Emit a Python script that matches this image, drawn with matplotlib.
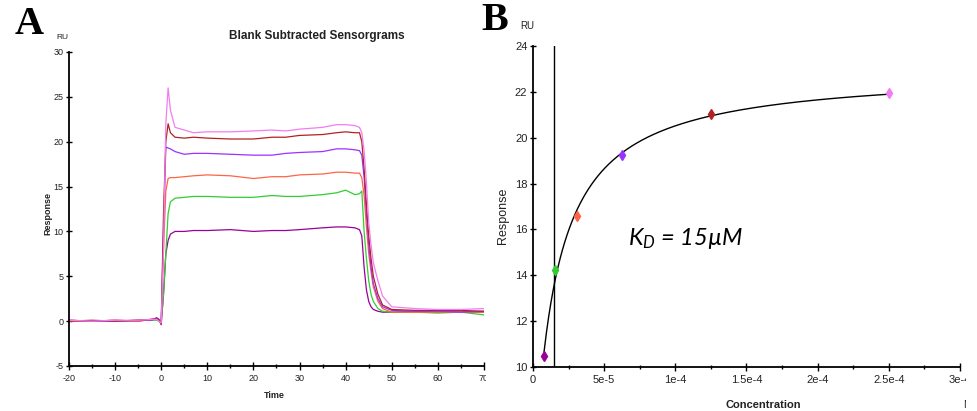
import numpy as np
import matplotlib
matplotlib.use('Agg')
import matplotlib.pyplot as plt
from matplotlib.ticker import MultipleLocator, FixedLocator, FixedFormatter
from matplotlib.transforms import Bbox, TransformedBbox

plt.rcParams['font.family'] = ['Liberation Sans', 'DejaVu Sans']
plt.rcParams['axes.unicode_minus'] = False
plt.rcParams['mathtext.fontset'] = 'custom'
plt.rcParams['mathtext.it'] = 'Lato:italic'
plt.rcParams['mathtext.rm'] = 'Lato:italic'

# ---- panel A: sensorgrams (RU vs s) ----
time_s = [-20, -15, -10, -5, -2, -1, -0.5, 0, 0.5, 1, 1.5, 2, 3, 5, 7, 10, 15, 20, 24, 27,
          30, 35, 38, 40, 42, 43, 43.5, 44, 44.5, 45, 45.5, 46, 47, 48, 50, 55, 60, 65, 70]

resp_250 = [0.1, 0.0, 0.1, 0.1, 0.2, 0.2, 0.0, -0.2, 8.0, 22.0, 26.0, 23.5, 21.6, 21.3, 21.0, 21.1, 21.1, 21.2, 21.3, 21.2,
            21.4, 21.6, 21.9, 21.9, 21.8, 21.6, 21.0, 19.0, 15.5, 11.0, 8.5, 6.5, 4.5, 2.8, 1.6, 1.4, 1.3, 1.3, 1.4]
resp_125 = [0.0, 0.1, 0.0, 0.1, 0.2, 0.3, 0.1, -0.3, 12.0, 20.0, 22.0, 21.0, 20.5, 20.4, 20.5, 20.4, 20.3, 20.3, 20.5, 20.5,
            20.7, 20.8, 21.0, 21.1, 21.0, 21.0, 20.0, 17.0, 13.0, 9.5, 7.0, 5.0, 3.0, 1.8, 1.3, 1.2, 1.2, 1.2, 1.1]
resp_62 = [0.1, 0.0, 0.0, 0.1, 0.1, 0.4, 0.2, -0.2, 10.0, 19.4, 19.3, 19.2, 18.9, 18.6, 18.7, 18.7, 18.6, 18.5, 18.5, 18.7,
           18.8, 18.9, 19.2, 19.2, 19.1, 19.0, 18.5, 16.0, 12.0, 8.5, 6.0, 4.2, 2.5, 1.6, 1.2, 1.1, 1.1, 1.0, 1.1]
resp_31 = [0.0, 0.0, 0.1, 0.0, 0.2, 0.3, 0.1, -0.3, 8.0, 14.5, 15.9, 16.0, 16.0, 16.1, 16.2, 16.3, 16.2, 15.9, 16.1, 16.1,
           16.3, 16.4, 16.6, 16.6, 16.5, 16.5, 16.0, 14.0, 10.5, 7.5, 5.5, 3.8, 2.2, 1.4, 1.0, 1.0, 1.0, 1.0, 1.0]
resp_16 = [0.0, 0.0, 0.0, 0.1, 0.1, 0.1, 0.0, 0.0, 3.0, 7.5, 12.0, 13.3, 13.7, 13.8, 13.9, 13.9, 13.8, 13.8, 14.0, 13.9,
           13.9, 14.1, 14.3, 14.6, 14.1, 14.2, 14.5, 10.0, 7.0, 4.5, 3.0, 2.2, 1.4, 1.1, 1.0, 1.0, 0.9, 1.0, 0.7]
resp_8 = [0.1, 0.0, 0.1, 0.0, 0.2, 0.3, 0.2, -0.4, 3.0, 7.5, 9.0, 9.7, 10.0, 10.0, 10.1, 10.1, 10.2, 10.0, 10.1, 10.1,
          10.2, 10.4, 10.5, 10.5, 10.4, 10.2, 9.5, 6.0, 3.5, 2.2, 1.6, 1.3, 1.1, 1.0, 1.0, 1.1, 1.0, 1.1, 1.0]

curve_colors = ['#990099', '#33cc33', '#ff6347', '#9933ff', '#b22222', '#f07ef0']
curves = [resp_8, resp_16, resp_31, resp_62, resp_125, resp_250]

# ---- panel B: steady-state affinity ----
conc_M = [7.8e-6, 1.56e-5, 3.125e-5, 6.25e-5, 1.25e-4, 2.5e-4]
resp_eq = [10.5, 14.25, 16.57, 19.23, 21.05, 21.95]
kd_M = 1.5e-5

fig = plt.figure(figsize=(9.77, 4.11), dpi=100)
axA = fig.add_axes([0.0706, 0.1095, 0.4248, 0.764])
axB = fig.add_axes([0.5455, 0.107, 0.4371, 0.781])

for resp, col in zip(curves, curve_colors):
    axA.plot(time_s, resp, color=col, lw=0.9)

axA.set_xlim(-20, 70)
axA.set_ylim(-5, 30)
axA.xaxis.set_major_locator(MultipleLocator(10))
axA.xaxis.set_minor_locator(MultipleLocator(5))
axA.yaxis.set_major_locator(MultipleLocator(5))

# fit steady-state model with fixed KD (linear in Rmax and offset)
c = np.array(conc_M)
frac = c / (kd_M + c)
A_mat = np.vstack([frac, np.ones_like(frac)]).T
rmax, off = np.linalg.lstsq(A_mat, np.array(resp_eq), rcond=None)[0]
c_fit = np.linspace(c.min(), c.max(), 300)
axB.plot(c_fit, rmax * c_fit / (kd_M + c_fit) + off, color='black', lw=1.0, zorder=2)
axB.plot([kd_M, kd_M], [10, 24], color='black', lw=1.0, zorder=2)
for x, y, col in zip(conc_M, resp_eq, curve_colors):
    axB.plot(x, y, marker='d', ms=5, color=col, mec=col, zorder=3)

axB.set_xlim(0, 3e-4)
axB.set_ylim(10, 24)
axB.xaxis.set_major_locator(FixedLocator([0, 5e-5, 1e-4, 1.5e-4, 2e-4, 2.5e-4, 3e-4]))
axB.xaxis.set_major_formatter(FixedFormatter(['0', '5e-5', '1e-4', '1.5e-4', '2e-4', '2.5e-4', '3e-4']))
axB.xaxis.set_minor_locator(MultipleLocator(2.5e-5))
axB.yaxis.set_major_locator(MultipleLocator(2))

for ax, fs in ((axA, 6.5), (axB, 8)):
    for s in ('top', 'right'):
        ax.spines[s].set_visible(False)
    ax.spines['left'].set_linewidth(1.3)
    ax.spines['bottom'].set_linewidth(1.3)
    ax.tick_params(which='major', direction='inout', length=6, width=1.0, labelsize=fs, color='black',
                   labelcolor='#222222', pad=3)
    ax.tick_params(which='minor', direction='inout', length=3, width=1.0)
    ax.tick_params(axis='y', which='major', length=5, pad=1.5)

# axis texts (kept just left of the tick labels)
axA.text(-0.052, 0.487, 'Response', transform=axA.transAxes, rotation=90, ha='center', va='center',
         fontsize=6.5, fontweight='bold', color='#222222')
axB.text(-0.07, 0.47, 'Response', transform=axB.transAxes, rotation=90, ha='center', va='center',
         fontsize=9, color='#222222')
axA.text(-0.017, 1.045, 'RU', transform=axA.transAxes, ha='center', va='center', fontsize=6, color='#222222')
axB.text(-0.014, 1.062, 'RU', transform=axB.transAxes, ha='center', va='center', fontsize=7, color='#222222')

fig.text(0.3245, 0.912, 'Blank Subtracted Sensorgrams', ha='center', va='center', fontsize=8.5, fontweight='bold',
         color='#222222')
fig.text(274 / 977, 1 - 395 / 411, 'Time', ha='center', va='center', fontsize=6.5, fontweight='bold', color='#222222')
fig.text(763 / 977, 1 - 405 / 411, 'Concentration', ha='center', va='center', fontsize=8, fontweight='bold',
         color='#222222')
unit_s = fig.text(488 / 977, 1 - 397 / 411, 's', ha='center', va='center', fontsize=6, color='#222222')
unit_m = fig.text(968 / 977, 1 - 405 / 411, 'M', ha='center', va='center', fontsize=8, color='#222222')

fig.text(15 / 977, 1 - 24 / 411, 'A', ha='left', va='center', fontsize=29, fontweight='bold',
         family='Liberation Serif')
fig.text(481 / 977, 1 - 21 / 411, 'B', ha='left', va='center', fontsize=29, fontweight='bold',
         family='Liberation Serif')

axB.text(6.7e-5, 15.6, '$K_D$ = 15µM', fontsize=17, style='italic', family='Lato', ha='left', va='center')

fig.canvas.draw()
# panel A image is cropped at its right edge, as is panel B
clipA = TransformedBbox(Bbox([[0, 0], [486 / 977, 1]]), fig.transFigure)
for lab in axA.get_xticklabels():
    lab.set_clip_box(clipA)
    lab.set_clip_on(True)
unit_s.set_clip_box(clipA)
unit_s.set_clip_on(True)
clipB = TransformedBbox(Bbox([[0, 0], [966 / 977, 1]]), fig.transFigure)
for lab in axB.get_xticklabels():
    lab.set_clip_box(clipB)
    lab.set_clip_on(True)
unit_m.set_clip_box(clipB)
unit_m.set_clip_on(True)

fig.savefig('out.png', dpi=100)
